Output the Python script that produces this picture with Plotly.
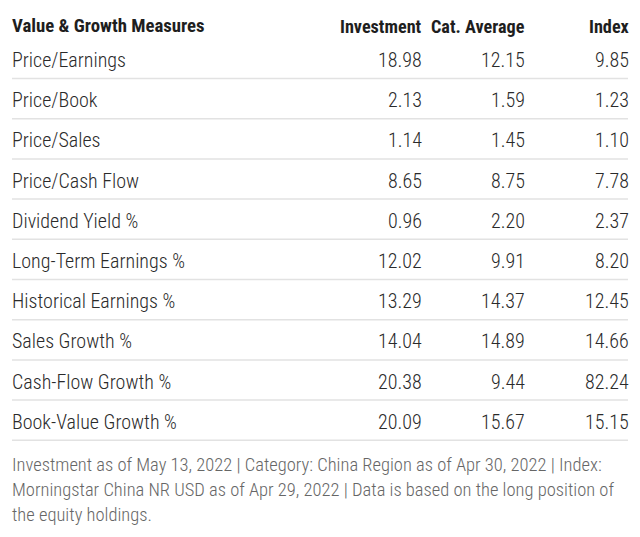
import plotly.graph_objects as go

title = "Value & Growth Measures"
col_headers = ["Investment", "Cat. Average", "Index"]
measures = ["Price/Earnings", "Price/Book", "Price/Sales", "Price/Cash Flow",
            "Dividend Yield %", "Long-Term Earnings %", "Historical Earnings %",
            "Sales Growth %", "Cash-Flow Growth %", "Book-Value Growth %"]
investment = [18.98, 2.13, 1.14, 8.65, 0.96, 12.02, 13.29, 14.04, 20.38, 20.09]
cat_average = [12.15, 1.59, 1.45, 8.75, 2.20, 9.91, 14.37, 14.89, 9.44, 15.67]
index_vals = [9.85, 1.23, 1.10, 7.78, 2.37, 8.20, 12.45, 14.66, 82.24, 15.15]
footnote_lines = ["Investment as of May 13, 2022 | Category: China Region as of Apr 30, 2022 | Index:",
                  "Morningstar China NR USD as of Apr 29, 2022 | Data is based on the long position of",
                  "the equity holdings."]

W, H = 640, 537
OFF = 8  # page body margin
FONT = "Roboto Condensed, Liberation Sans Narrow, Roboto, sans-serif"
left, right = 12, 628
col_right = [421, 524, 628]
row0, step = 60, 40.2
PAD = 2.5

fig = go.Figure()
fig.add_trace(go.Scatter(x=[OFF, W], y=[OFF, H], mode="markers", marker=dict(opacity=0),
                         hoverinfo="skip", showlegend=False))

ann = []
ann.append(dict(x=left - PAD, y=26, text=title, xanchor="left", yanchor="middle",
                font=dict(family=FONT, size=18.8, color="#1e1e1e", weight="bold")))
for cx, h in zip(col_right, col_headers):
    ann.append(dict(x=cx + PAD, y=26, text=h, xanchor="right", yanchor="middle",
                    font=dict(family=FONT, size=18.2, color="#1e1e1e", weight="bold")))

shapes = []
for i, m in enumerate(measures):
    yc = row0 + i * step
    ann.append(dict(x=left - PAD, y=yc, text=m, xanchor="left", yanchor="middle",
                    font=dict(family=FONT, size=20, color="#2a2a2a", weight=300)))
    for cx, v in zip(col_right, (investment[i], cat_average[i], index_vals[i])):
        ann.append(dict(x=cx + PAD, y=yc, text=f"{v:.2f}", xanchor="right", yanchor="middle",
                        font=dict(family=FONT, size=20, color="#2a2a2a", weight=300)))
    ly = yc + 18.5
    shapes.append(dict(type="line", x0=left, x1=right, y0=ly, y1=ly, xref="x", yref="y",
                       line=dict(color="#e2e2e2", width=1.5)))

for j, line in enumerate(footnote_lines):
    ann.append(dict(x=left - PAD, y=465 + j * 25, text=line, xanchor="left", yanchor="middle",
                    font=dict(family=FONT, size=18.5, color="#666666", weight=300)))

for a in ann:
    a.update(xref="x", yref="y", showarrow=False)

fig.update_layout(
    width=W - OFF, height=H - OFF, margin=dict(l=0, r=0, t=0, b=0),
    paper_bgcolor="white", plot_bgcolor="white",
    xaxis=dict(range=[OFF, W], visible=False, fixedrange=True),
    yaxis=dict(range=[H, OFF], visible=False, fixedrange=True),
    annotations=ann, shapes=shapes,
)
fig.write_html("out.html")
